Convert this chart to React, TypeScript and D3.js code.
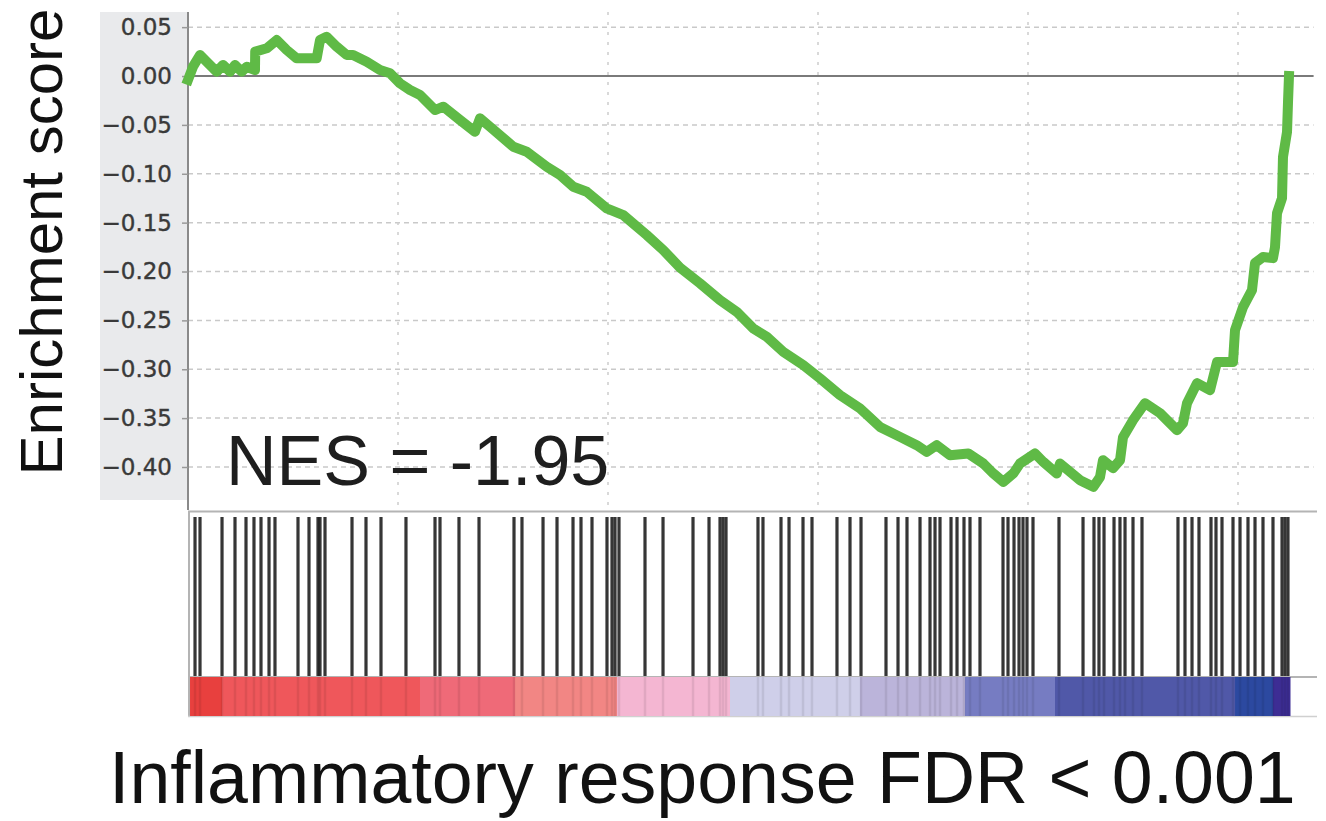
import React, { useEffect, useRef } from 'react';
import * as d3 from 'd3';

// enrichment score axis ticks and rank grid
const esTicks = [0.05, 0.0, -0.05, -0.1, -0.15, -0.2, -0.25, -0.3, -0.35, -0.4];
const rankTicks = [5000, 10000, 15000, 20000, 25000];

// running enrichment score
const curveRank = [
  0, 119, 286, 445, 683, 833, 1000, 1119, 1279, 1398, 1595, 1600, 1874, 2112, 2350, 2588,
  3064, 3143, 3302, 3540, 3779, 3929, 4255, 4572, 4810, 5048, 5286, 5524, 5881, 6079, 6476,
  6833, 6953, 7190, 7746, 8065, 8541, 8858, 9174, 9493, 9969, 10365, 10922, 11317, 11714,
  12191, 12667, 13065, 13460, 13779, 14174, 14650, 15048, 15524, 16000, 16476, 16952, 17350,
  17588, 17827, 18143, 18579, 18936, 19174, 19412, 19650, 19810, 20167, 20365, 20684, 20762,
  21238, 21556, 21714, 21786, 22024, 22191, 22262, 22500, 22786, 23143, 23548, 23690, 23786,
  24024, 24333, 24500, 24881, 24929, 25119, 25333, 25405, 25595, 25833, 25881, 25929, 26048,
  26071, 26167, 26190, 26214,
];
const curveES = [
  -0.004, 0.0096, 0.0215, 0.0146, 0.0044, 0.0113, 0.0044, 0.0113, 0.0044, 0.0095, 0.0061, 0.025,
  0.0284, 0.0368, 0.0266, 0.0181, 0.0181, 0.0368, 0.0402, 0.03, 0.0215, 0.0215, 0.0146, 0.0061,
  0.0028, -0.0075, -0.0143, -0.0194, -0.0348, -0.0314, -0.045, -0.057, -0.0433, -0.0519, -0.0724,
  -0.0775, -0.0928, -0.1013, -0.1133, -0.1184, -0.1354, -0.1423, -0.1627, -0.1781, -0.196,
  -0.2122, -0.2293, -0.2412, -0.2583, -0.2668, -0.2822, -0.2958, -0.3094, -0.3265, -0.3401,
  -0.359, -0.3692, -0.3777, -0.3845, -0.3777, -0.3879, -0.3862, -0.3964, -0.4066, -0.4152,
  -0.4066, -0.3964, -0.3862, -0.3948, -0.4066, -0.3964, -0.4135, -0.4203, -0.4104, -0.393,
  -0.4012, -0.393, -0.3695, -0.3521, -0.3347, -0.3449, -0.3623, -0.3552, -0.3347, -0.3142,
  -0.3214, -0.2927, -0.2927, -0.26, -0.2364, -0.219, -0.1914, -0.1852, -0.1863, -0.175, -0.1402,
  -0.1249, -0.0829, -0.0573, -0.0276, 0.0,
];

// ranks of the gene set members (hit bars)
const hitRanks = [
  167, 286, 810, 1119, 1381, 1571, 1738, 1929, 2071, 2619, 2881, 3095, 3143, 3262, 3905, 4238,
  4595, 5190, 5881, 6000, 6452, 6929, 7762, 7952, 8453, 8786, 9167, 9357, 9619, 9976, 10095,
  10167, 10262, 10881, 11310, 12024, 12405, 12667, 12738, 12810, 13571, 13690, 14119, 14310,
  14643, 14857, 15452, 15762, 16024, 16619, 16905, 17119, 17429, 17667, 17786, 17905, 18167,
  18310, 18476, 18619, 18857, 19405, 19524, 19667, 19786, 19881, 19976, 20119, 20738, 21310,
  21571, 21690, 21810, 22048, 22190, 22310, 22500, 22714, 23571, 23738, 23905, 24071, 24357,
  24476, 24619, 24881, 25048, 25238, 25405, 25595, 25833, 26048, 26119, 26190,
];

// ranked-list heat bar: band edges in rank
const bandEdges = [48, 810, 5524, 7786, 10214, 12905, 16000, 18500, 20643, 24929, 25833, 26238];
const bandColors = [
  '#e8403e', '#ef575b', '#ef6a78', '#f28684', '#f4b6d2', '#cfcfe9', '#bbb4da',
  '#767cc2', '#5058a8', '#2c49a0', '#3d2d94',
];

const xMax = 26800;
const title = 'Enrichment score';
const nesLabel = 'NES = -1.95';
const caption = 'Inflammatory response FDR < 0.001';

export default function App() {
  const ref = useRef<SVGSVGElement>(null);

  useEffect(() => {
    const svg = d3.select(ref.current);
    svg.selectAll('*').remove();

    const left = 188;
    const right = 1313.6;
    const top = 12;
    const bottom = 510;

    const x = d3.scaleLinear().domain([0, xMax]).range([left, right]);
    const y = d3.scaleLinear().domain([-0.444, 0.0655]).range([bottom, top]);

    // label backdrop
    svg.append('rect')
      .attr('x', 100).attr('y', top)
      .attr('width', left - 100).attr('height', 488)
      .attr('fill', '#e9eaec');

    // horizontal dashed grid
    svg.append('g')
      .selectAll('line')
      .data(esTicks.filter(d => d !== 0))
      .enter()
      .append('line')
        .attr('x1', left).attr('x2', right)
        .attr('y1', d => y(d)).attr('y2', d => y(d))
        .attr('stroke', '#c9c9c9')
        .attr('stroke-width', 1.5)
        .attr('stroke-dasharray', '5,4');

    // vertical dashed grid
    svg.append('g')
      .selectAll('line')
      .data(rankTicks)
      .enter()
      .append('line')
        .attr('x1', d => x(d)).attr('x2', d => x(d))
        .attr('y1', top).attr('y2', bottom)
        .attr('stroke', '#cdcdcd')
        .attr('stroke-width', 1.5)
        .attr('stroke-dasharray', '3,7');

    // zero line
    svg.append('line')
      .attr('x1', left).attr('x2', right)
      .attr('y1', y(0)).attr('y2', y(0))
      .attr('stroke', '#7a7a7a')
      .attr('stroke-width', 2);

    // y axis
    const yAxis = d3.axisLeft(y)
      .tickValues(esTicks)
      .tickFormat(d3.format('.2f'))
      .tickSize(6)
      .tickPadding(10);
    const ax = svg.append('g')
      .attr('transform', `translate(${left},0)`)
      .call(yAxis);
    ax.select('.domain').attr('stroke', '#8a8a8a').attr('stroke-width', 2)
      .attr('d', `M0,${top}V${bottom}`);
    ax.selectAll('.tick line').attr('stroke', '#999').attr('stroke-width', 1.5);
    ax.selectAll('.tick text')
      .attr('fill', '#3a3a3a')
      .attr('stroke', '#3a3a3a')
      .attr('stroke-width', 0.4)
      .style('font-family', '"DejaVu Sans", sans-serif')
      .style('font-size', '23px');

    // plot bottom edge
    svg.append('line')
      .attr('x1', left).attr('x2', 1317)
      .attr('y1', 511.5).attr('y2', 511.5)
      .attr('stroke', '#b4b4b4').attr('stroke-width', 2);

    // running score curve
    const pts = curveRank.map((r, i) => [r, curveES[i]] as [number, number]);
    const line = d3.line<[number, number]>()
      .x(d => x(d[0]))
      .y(d => y(d[1]));
    svg.append('path')
      .datum(pts)
      .attr('d', line)
      .attr('fill', 'none')
      .attr('stroke', '#5fba46')
      .attr('stroke-width', 10)
      .attr('stroke-linejoin', 'round')
      .attr('stroke-linecap', 'square');

    // NES label
    svg.append('text')
      .attr('x', 226).attr('y', 485)
      .attr('fill', '#1e1e1e')
      .style('font-family', '"Liberation Sans", Arial, sans-serif')
      .style('font-size', '70px')
      .text(nesLabel);

    // lower panel frame
    svg.append('line')
      .attr('x1', 189).attr('x2', 189)
      .attr('y1', 512).attr('y2', 716)
      .attr('stroke', '#b4b4b4').attr('stroke-width', 2);
    svg.append('line')
      .attr('x1', left).attr('x2', 1317)
      .attr('y1', 677).attr('y2', 677)
      .attr('stroke', '#b4b4b4').attr('stroke-width', 2);
    svg.append('line')
      .attr('x1', left).attr('x2', 1317)
      .attr('y1', 716.5).attr('y2', 716.5)
      .attr('stroke', '#d0d0d0').attr('stroke-width', 1.5);

    // heat bar
    svg.append('g')
      .selectAll('rect')
      .data(bandColors)
      .enter()
      .append('rect')
        .attr('x', (d, i) => x(bandEdges[i]))
        .attr('width', (d, i) => x(bandEdges[i + 1]) - x(bandEdges[i]) + 0.5)
        .attr('y', 677).attr('height', 39)
        .attr('fill', d => d);

    // faint hit traces in heat bar
    svg.append('g')
      .selectAll('line')
      .data(hitRanks)
      .enter()
      .append('line')
        .attr('x1', d => x(d)).attr('x2', d => x(d))
        .attr('y1', 677).attr('y2', 716)
        .attr('stroke', '#000')
        .attr('stroke-opacity', 0.08)
        .attr('stroke-width', 2.5);

    // hits
    svg.append('g')
      .selectAll('line')
      .data(hitRanks)
      .enter()
      .append('line')
        .attr('x1', d => x(d)).attr('x2', d => x(d))
        .attr('y1', 517).attr('y2', 676)
        .attr('stroke', '#1a1a1a')
        .attr('stroke-opacity', 0.88)
        .attr('stroke-width', 3.2);

    // y title
    svg.append('text')
      .attr('transform', 'translate(62,242) rotate(-90)')
      .attr('text-anchor', 'middle')
      .attr('fill', '#111')
      .style('font-family', '"Liberation Sans", Arial, sans-serif')
      .style('font-size', '60px')
      .text(title);

    // caption
    svg.append('text')
      .attr('x', 109).attr('y', 803)
      .attr('fill', '#111')
      .style('font-family', '"Liberation Sans", Arial, sans-serif')
      .style('font-size', '73.5px')
      .text(caption);
  }, []);

  return (
    <svg
      ref={ref}
      width={1326}
      height={821}
      style={{ position: 'absolute', left: 0, top: 0, background: '#fff' }}
    />
  );
}
